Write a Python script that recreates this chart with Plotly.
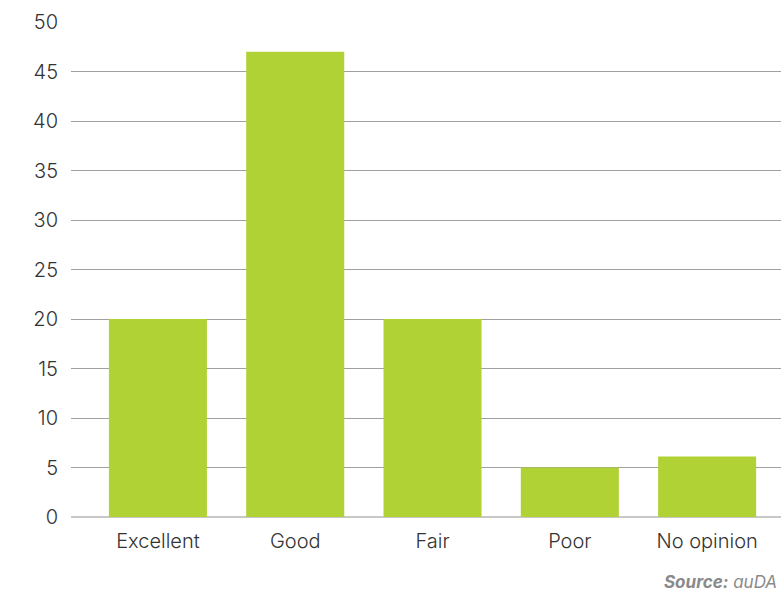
import plotly.graph_objects as go

categories = ["Excellent", "Good", "Fair", "Poor", "No opinion"]
values = [20, 47, 20, 5, 6.1]
y_ticks = [0, 5, 10, 15, 20, 25, 30, 35, 40, 45, 50]

fig = go.Figure(go.Bar(
    x=categories, y=values,
    marker=dict(color="#b0d235", line=dict(width=0)),
    width=0.714,
))

tick_font = dict(size=20, color="#333333", family="Inter, Lato, sans-serif", weight=300)

fig.update_layout(
    width=781, height=591,
    margin=dict(l=71, r=0, t=22, b=73.5),
    paper_bgcolor="white", plot_bgcolor="white",
    showlegend=False,
    font=dict(family="Inter, Lato, sans-serif", size=20, color="#333333"),
    xaxis=dict(
        range=[-0.633, 4.538],
        showgrid=False, zeroline=False, showline=False,
        ticks="", ticklabelstandoff=10,
        tickfont=tick_font,
    ),
    yaxis=dict(
        range=[0, 50], tickvals=y_ticks,
        showgrid=True, gridcolor="#a0a0a0", gridwidth=1,
        zeroline=True, zerolinecolor="#c8c8c8", zerolinewidth=2,
        showline=False, ticks="", ticklabelstandoff=12,
        tickfont=tick_font,
    ),
    annotations=[dict(
        xref="paper", yref="paper", x=0.997, y=-0.131,
        xanchor="right", yanchor="middle", showarrow=False,
        text="<b><i>Source:</i></b> <i>auDA</i>",
        font=dict(size=17, color="#8a8a8a", family="Inter, Lato, sans-serif"),
    )],
)

fig.write_html("out.html")
